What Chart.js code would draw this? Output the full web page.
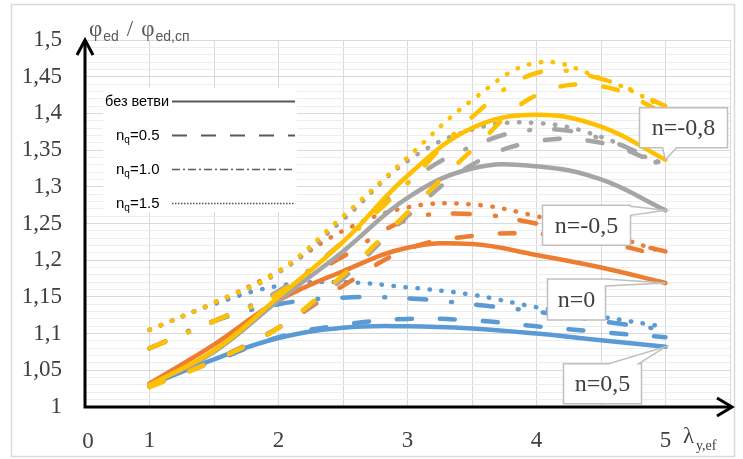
<!DOCTYPE html>
<html><head><meta charset="utf-8">
<script src="https://cdn.jsdelivr.net/npm/chart.js@4.4.1/dist/chart.umd.min.js"></script>
<style>html,body{margin:0;padding:0;background:#fff;}#wrap{width:743px;height:459px;}</style>
</head><body><div id="wrap"><canvas id="c" width="743" height="459"></canvas></div>
<script>
// ---- data ----
const xValues = [1, 1.5, 2, 2.5, 3, 3.5, 4, 4.5, 5];
const xTickLabels = [1, 2, 3, 4, 5];
const seriesLabels = ['n=-0,8', 'n=-0,5', 'n=0', 'n=0,5'];
const legendLabels = ['без ветви', '0.5', '1.0', '1.5'];

// n = -0,8 (yellow)
const yellowSolid   = [1.030, 1.077, 1.150, 1.225, 1.315, 1.380, 1.398, 1.382, 1.337];
const yellowNq05    = [1.027, 1.063, 1.108, 1.180, 1.265, 1.350, 1.425, 1.437, 1.400];
const yellowNq10    = [1.080, 1.117, 1.155, 1.225, 1.305, 1.395, 1.455, 1.447, 1.410];
const yellowNq15    = [1.105, 1.142, 1.185, 1.260, 1.340, 1.418, 1.469, 1.448, 1.408];
// n = -0,5 (grey)
const greySolid     = [1.030, 1.075, 1.145, 1.212, 1.285, 1.325, 1.328, 1.310, 1.268];
const greyNq05      = [1.028, 1.064, 1.108, 1.175, 1.260, 1.330, 1.362, 1.360, 1.328];
const greyNq10      = [1.080, 1.117, 1.158, 1.225, 1.305, 1.355, 1.378, 1.366, 1.330];
const greyNq15      = [1.105, 1.142, 1.183, 1.255, 1.335, 1.378, 1.387, 1.368, 1.327];
// n = 0 (orange)
const orangeSolid   = [1.032, 1.085, 1.145, 1.185, 1.217, 1.222, 1.207, 1.190, 1.169];
const orangeNq05    = [1.028, 1.064, 1.108, 1.165, 1.215, 1.233, 1.236, 1.225, 1.205];
const orangeNq10    = [1.080, 1.117, 1.155, 1.205, 1.255, 1.263, 1.250, 1.232, 1.212];
const orangeNq15    = [1.105, 1.142, 1.185, 1.240, 1.272, 1.276, 1.260, 1.238, 1.210];
// n = 0,5 (blue)
const blueSolid     = [1.030, 1.065, 1.094, 1.108, 1.110, 1.107, 1.100, 1.091, 1.082];
const blueNq05      = [1.028, 1.062, 1.095, 1.112, 1.120, 1.118, 1.110, 1.102, 1.095];
const blueNq10      = [1.080, 1.117, 1.140, 1.149, 1.148, 1.140, 1.130, 1.117, 1.105];
const blueNq15      = [1.105, 1.140, 1.165, 1.170, 1.163, 1.153, 1.136, 1.123, 1.109];

// ---- styles ----
const COLORS = { yellow: '#FFC000', grey: '#A5A5A5', orange: '#ED7D31', blue: '#5B9BD5' };
const DASH = { solid: [], nq05: [15, 28], nq10: [17, 25, 1, 24], nq15: [0.5, 11.5] };
const LW = 4.5;

const groups = [
  { color: COLORS.yellow, label: seriesLabels[0], sets: [yellowSolid, yellowNq05, yellowNq10, yellowNq15] },
  { color: COLORS.grey,   label: seriesLabels[1], sets: [greySolid, greyNq05, greyNq10, greyNq15] },
  { color: COLORS.orange, label: seriesLabels[2], sets: [orangeSolid, orangeNq05, orangeNq10, orangeNq15] },
  { color: COLORS.blue,   label: seriesLabels[3], sets: [blueSolid, blueNq05, blueNq10, blueNq15] },
];
const dashKeys = ['solid', 'nq05', 'nq10', 'nq15'];
const datasets = [];
groups.forEach(g => {
  g.sets.forEach((arr, i) => {
    datasets.push({
      label: g.label + ' ' + dashKeys[i],
      data: arr.map((v, k) => ({ x: xValues[k], y: v })),
      borderColor: g.color,
      borderWidth: LW,
      borderDash: DASH[dashKeys[i]],
      borderCapStyle: 'round',
      borderJoinStyle: 'round',
      pointRadius: 0,
      tension: 0.4,
      fill: false
    });
  });
});

// ---- plugins ----
const frame = {
  id: 'frame',
  beforeDraw(chart) {
    const c = chart.ctx;
    c.save();
    c.fillStyle = '#fff';
    c.fillRect(0, 0, chart.width, chart.height);
    c.strokeStyle = '#D9D9D9';
    c.lineWidth = 1.5;
    c.strokeRect(11.5, 4.5, 723, 452);
    c.restore();
  }
};

function calloutPath(c, pts) {
  c.beginPath();
  c.moveTo(pts[0][0], pts[0][1]);
  for (let i = 1; i < pts.length; i++) c.lineTo(pts[i][0], pts[i][1]);
  c.closePath();
}

const extras = {
  id: 'extras',
  afterDatasetsDraw(chart) {
    const c = chart.ctx;
    const xs = chart.scales.x, ys = chart.scales.y;
    c.save();
    // ----- legend box -----
    c.fillStyle = '#fff';
    c.fillRect(103, 88, 194, 124);
    const rows = [101, 135, 169, 203];
    const legDash = [[], [15, 14], [8, 3, 2, 3], [1.5, 1.5]];
    const legW = [2, 2, 1.5, 1.5];
    rows.forEach((ry, i) => {
      c.strokeStyle = '#595959';
      c.lineWidth = legW[i];
      c.setLineDash(legDash[i]);
      c.lineCap = 'butt';
      c.beginPath();
      c.moveTo(172, ry + 0.5);
      c.lineTo(295, ry + 0.5);
      c.stroke();
    });
    c.setLineDash([]);
    c.fillStyle = '#000';
    c.textBaseline = 'alphabetic';
    c.textAlign = 'left';
    c.font = '14.5px "Liberation Sans", Arial, sans-serif';
    c.fillText(legendLabels[0], 105, rows[0] + 5);
    for (let i = 1; i < 4; i++) {
      let x = 116;
      c.font = '15px "Liberation Sans", Arial, sans-serif';
      c.fillText('n', x, rows[i] + 5);
      x += c.measureText('n').width;
      c.font = '10px "Liberation Sans", Arial, sans-serif';
      c.fillText('q', x, rows[i] + 8);
      x += c.measureText('q').width;
      c.font = '15px "Liberation Sans", Arial, sans-serif';
      c.fillText('=' + legendLabels[i], x, rows[i] + 5);
    }

    // ----- callouts -----
    const x5 = xs.getPixelForValue(xValues[xValues.length - 1]);
    const tips = groups.map(g => [x5, ys.getPixelForValue(g.sets[0][g.sets[0].length - 1])]);
    const boxes = [
      (t) => { const x0 = t[0] - 26, x1 = t[0] + 62, y0 = t[1] - 52, y1 = t[1] - 12;
        return { pts: [[x0, y0], [x1, y0], [x1, y1], [t[0] + 11, y1], t, [t[0] - 3, y1], [x0, y1]], x0, x1, y0, y1 }; },
      (t) => { const x0 = t[0] - 123, x1 = t[0] - 35, y0 = t[1] - 5, y1 = t[1] + 35;
        return { pts: [[x0, y0], [x1, y0], [x1, t[1] - 4], t, [x1, t[1] + 5], [x1, y1], [x0, y1]], x0, x1, y0, y1 }; },
      (t) => { const x0 = t[0] - 118, x1 = t[0] - 60, y0 = t[1] - 4, y1 = t[1] + 37;
        return { pts: [[x0, y0], [x1, y0], t, [x1, t[1] + 3], [x1, y1], [x0, y1]], x0, x1, y0, y1 }; },
      (t) => { const x0 = t[0] - 102, x1 = t[0] - 24, y0 = t[1] + 17, y1 = t[1] + 57;
        return { pts: [[x0, y0], [t[0] - 57, y0], t, [t[0] - 27, y0], [x1, y0], [x1, y1], [x0, y1]], x0, x1, y0, y1 }; }
    ];
    boxes.forEach((fn, i) => {
      const b = fn(tips[i]);
      calloutPath(c, b.pts);
      c.fillStyle = '#fff';
      c.fill();
      c.strokeStyle = '#BFBFBF';
      c.lineWidth = 1.5;
      c.lineJoin = 'miter';
      c.stroke();
      c.fillStyle = '#404040';
      c.font = '24px "Liberation Serif", "Times New Roman", serif';
      c.textAlign = 'center';
      c.textBaseline = 'middle';
      c.fillText(groups[i].label, (b.x0 + b.x1) / 2, (b.y0 + b.y1) / 2 + 1);
    });

    // ----- axes with arrows -----
    const ox = chart.chartArea.left, oy = chart.chartArea.bottom;
    c.strokeStyle = '#000';
    c.lineWidth = 3;
    c.lineCap = 'butt';
    c.lineJoin = 'miter';
    c.beginPath();
    c.moveTo(ox, oy + 1);
    c.lineTo(ox, 40);
    c.moveTo(ox - 1.5, oy);
    c.lineTo(732, oy);
    c.stroke();
    c.beginPath();
    c.moveTo(ox - 8, 55); c.lineTo(ox, 40); c.lineTo(ox + 8, 55);
    c.moveTo(717, oy - 9); c.lineTo(732, oy); c.lineTo(717, oy + 9);
    c.stroke();

    // ----- axis titles -----
    c.textAlign = 'left';
    c.textBaseline = 'alphabetic';
    c.fillStyle = '#595959';
    let x = 89;
    c.font = '23px "Liberation Serif", serif';
    c.fillText('φ', x, 36); x += c.measureText('φ').width + 1;
    c.font = '14px "Liberation Sans", sans-serif';
    c.fillText('ed', x, 41); x += c.measureText('ed').width + 8;
    c.font = '23px "Liberation Serif", serif';
    c.fillText('/', x, 36); x += c.measureText('/').width + 8;
    c.fillText('φ', x, 36); x += c.measureText('φ').width + 1;
    c.font = '14px "Liberation Sans", sans-serif';
    c.fillText('ed,сп', x, 41);

    c.fillStyle = '#404040';
    c.font = '23px "Liberation Serif", serif';
    c.textAlign = 'center';
    c.fillText('0', 88, 448);
    c.textAlign = 'left';
    c.fillText('λ', 683, 443);
    c.font = '14px "Liberation Serif", serif';
    c.fillText('y,ef', 696, 450);
    c.restore();
  }
};

const tickFont = { family: '"Liberation Serif", "Times New Roman", serif', size: 23 };

new Chart(document.getElementById('c'), {
  type: 'line',
  data: { datasets },
  options: {
    responsive: false,
    animation: false,
    devicePixelRatio: 1,
    layout: { padding: { left: 10, right: 13, top: 40, bottom: 0 } },
    plugins: { legend: { display: false }, tooltip: { enabled: false } },
    scales: {
      x: {
        type: 'linear', min: 0.5, max: 5.5,
        afterFit(s) { s.height = 52; },
        border: { display: false },
        grid: { color: '#D9D9D9', lineWidth: 1, drawTicks: true, tickLength: 18, tickColor: 'rgba(0,0,0,0)' },
        ticks: {
          stepSize: 0.5, autoSkip: false, maxRotation: 0, padding: 2,
          color: '#404040', font: tickFont,
          callback(v) { const r = Math.round(v); return (Math.abs(v - r) < 1e-6 && xTickLabels.includes(r)) ? String(r) : ''; }
        }
      },
      y: {
        type: 'linear', min: 1, max: 1.5,
        afterFit(s) { s.width = 75; },
        border: { display: false },
        grid: {
          drawTicks: false,
          color(ctx) { const k = Math.round(ctx.tick.value * 100); return k % 5 === 0 ? '#D9D9D9' : '#EDEDED'; },
          lineWidth: 1
        },
        ticks: {
          stepSize: 0.01, autoSkip: false, padding: 23,
          color: '#404040', font: tickFont,
          callback(v) { const k = Math.round(v * 100); if (k % 5 !== 0) return ''; return String(k / 100).replace('.', ','); }
        }
      }
    }
  },
  plugins: [frame, extras]
});
</script>
</body></html>
